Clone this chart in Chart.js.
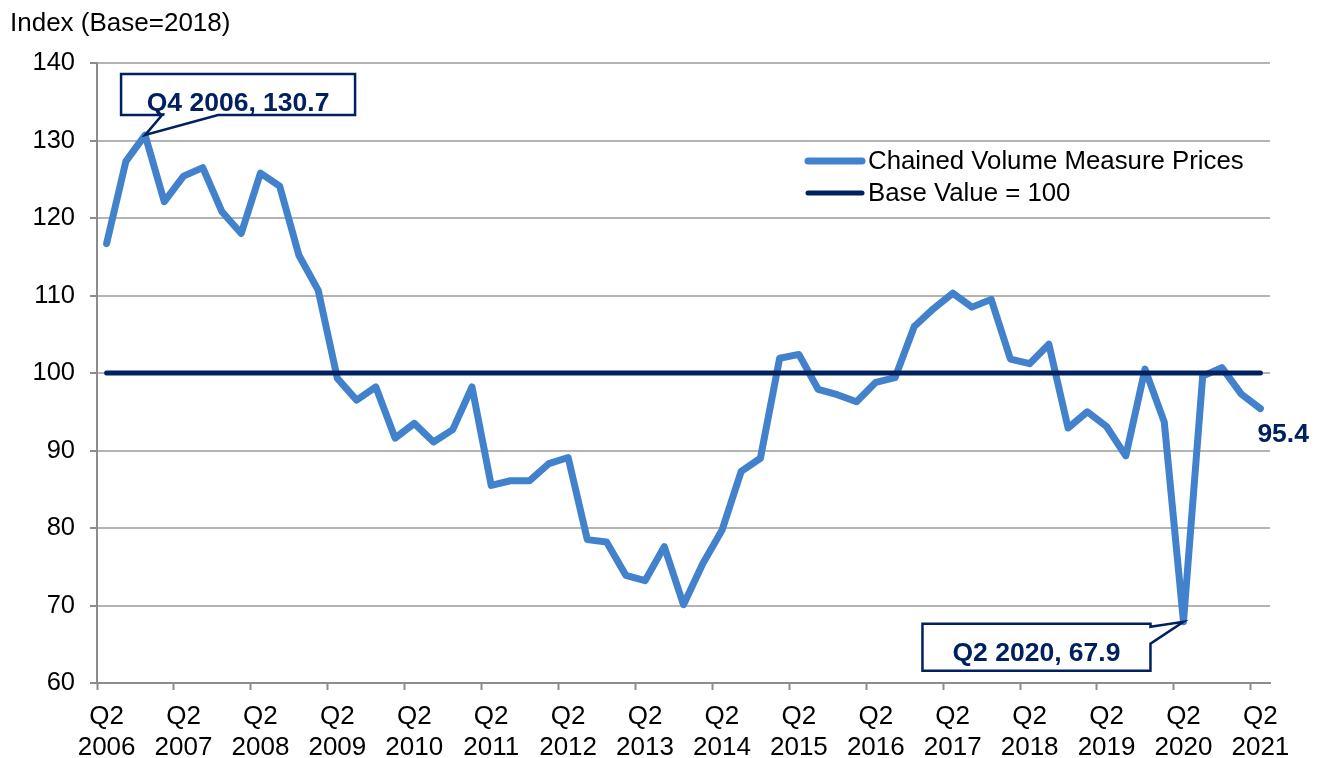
<!DOCTYPE html>
<html>
<head>
<title>Chained Volume Measure Prices</title>
<script src="https://cdn.jsdelivr.net/npm/chart.js"></script>
<style>
  html, body { margin: 0; padding: 0; background: #fff; }
  #wrap { width: 1328px; height: 758px; }
</style>
</head>
<body>
<div id="wrap"><canvas id="priceChart"></canvas></div>
<script>
// quarterly categories, Q2 2006 .. Q2 2021
const quarters = [
  'Q2 2006', 'Q3 2006', 'Q4 2006', 'Q1 2007', 'Q2 2007', 'Q3 2007', 'Q4 2007', 'Q1 2008',
  'Q2 2008', 'Q3 2008', 'Q4 2008', 'Q1 2009', 'Q2 2009', 'Q3 2009', 'Q4 2009', 'Q1 2010',
  'Q2 2010', 'Q3 2010', 'Q4 2010', 'Q1 2011', 'Q2 2011', 'Q3 2011', 'Q4 2011', 'Q1 2012',
  'Q2 2012', 'Q3 2012', 'Q4 2012', 'Q1 2013', 'Q2 2013', 'Q3 2013', 'Q4 2013', 'Q1 2014',
  'Q2 2014', 'Q3 2014', 'Q4 2014', 'Q1 2015', 'Q2 2015', 'Q3 2015', 'Q4 2015', 'Q1 2016',
  'Q2 2016', 'Q3 2016', 'Q4 2016', 'Q1 2017', 'Q2 2017', 'Q3 2017', 'Q4 2017', 'Q1 2018',
  'Q2 2018', 'Q3 2018', 'Q4 2018', 'Q1 2019', 'Q2 2019', 'Q3 2019', 'Q4 2019', 'Q1 2020',
  'Q2 2020', 'Q3 2020', 'Q4 2020', 'Q1 2021', 'Q2 2021'
];

// Chained Volume Measure Prices index (2018 = 100)
const cvmPrices = [
  116.7, 127.3, 130.7, 122.1, 125.4, 126.5, 120.8, 118.0,
  125.8, 124.1, 115.2, 110.7, 99.3, 96.5, 98.2, 91.6,
  93.5, 91.1, 92.7, 98.2, 85.5, 86.1, 86.1, 88.3,
  89.1, 78.5, 78.2, 73.9, 73.2, 77.6, 70.1, 75.4,
  79.7, 87.3, 89.0, 101.9, 102.4, 97.9, 97.2, 96.3,
  98.8, 99.4, 106.0, 108.3, 110.3, 108.5, 109.5, 101.8,
  101.2, 103.7, 92.9, 95.0, 93.1, 89.3, 100.5, 93.7,
  67.9, 99.6, 100.7, 97.3, 95.4
];

const baseValue = 100;
const baseLine = [
  { x: 'Q2 2006', y: baseValue },
  { x: 'Q2 2021', y: baseValue }
];

const yMin = 60, yMax = 140, yStep = 10;

// labelled points
const callouts = [
  { quarter: 'Q4 2006', value: 130.7 },
  { quarter: 'Q2 2020', value: 67.9 }
];
const endLabel = { quarter: 'Q2 2021', value: 95.4 };

const NAVY = '#002060';
const BLUE = '#4281CB';
const FONT = "'Liberation Sans', Arial, sans-serif";

const overlayPlugin = {
  id: 'overlay',
  afterDatasetsDraw(chart) {
    const { ctx, chartArea, scales: { x, y } } = chart;
    ctx.save();

    // legend, inside the plot area at the top right
    const lx = chartArea.right - 462, ly = chartArea.top + 98;
    chart.data.datasets.forEach((ds, i) => {
      const yy = ly + i * 32;
      ctx.strokeStyle = ds.borderColor;
      ctx.lineWidth = ds.borderWidth;
      ctx.lineCap = 'round';
      ctx.beginPath();
      ctx.moveTo(lx, yy);
      ctx.lineTo(lx + 54, yy);
      ctx.stroke();
      ctx.fillStyle = '#000';
      ctx.font = '25.8px ' + FONT;
      ctx.textAlign = 'left';
      ctx.textBaseline = 'middle';
      ctx.fillText(ds.label, lx + 60, yy + 1);
    });

    // callout boxes
    ctx.lineWidth = 2.5;
    ctx.lineJoin = 'miter';
    ctx.strokeStyle = NAVY;
    ctx.font = 'bold 26.5px ' + FONT;
    ctx.textAlign = 'center';
    ctx.textBaseline = 'alphabetic';
    callouts.forEach((c, i) => {
      const px = x.getPixelForValue(quarters.indexOf(c.quarter));
      const py = y.getPixelForValue(c.value);
      let l, r, t, b;
      ctx.beginPath();
      if (i === 0) {
        l = px - 24; r = px + 210; t = py - 61; b = py - 20;
        ctx.moveTo(l, t);
        ctx.lineTo(r, t);
        ctx.lineTo(r, b);
        ctx.lineTo(px + 73, b);
        ctx.lineTo(px, py);
        ctx.lineTo(px + 17, b);
        ctx.lineTo(l, b);
      } else {
        l = px - 261; r = px - 33; t = py + 2; b = py + 49;
        ctx.moveTo(l, t);
        ctx.lineTo(r, t);
        ctx.lineTo(r, py + 5);
        ctx.lineTo(px, py);
        ctx.lineTo(r, py + 22);
        ctx.lineTo(r, b);
        ctx.lineTo(l, b);
      }
      ctx.closePath();
      ctx.fillStyle = '#fff';
      ctx.fill();
      ctx.stroke();
      ctx.fillStyle = NAVY;
      ctx.fillText(c.quarter + ', ' + c.value.toFixed(1), (l + r) / 2, t + 37);
    });

    // last value label
    const ex = x.getPixelForValue(quarters.indexOf(endLabel.quarter));
    const ey = y.getPixelForValue(endLabel.value);
    ctx.textAlign = 'left';
    ctx.fillStyle = NAVY;
    ctx.fillText(endLabel.value.toFixed(1), ex - 3, ey + 33);

    ctx.restore();
  }
};

new Chart(document.getElementById('priceChart'), {
  type: 'line',
  data: {
    labels: quarters,
    datasets: [{
      label: 'Chained Volume Measure Prices',
      data: cvmPrices,
      borderColor: BLUE,
      borderWidth: 7,
      borderCapStyle: 'round',
      borderJoinStyle: 'round',
      pointRadius: 0,
      tension: 0,
      order: 1
    }, {
      label: 'Base Value = ' + baseValue,
      data: baseLine,
      borderColor: NAVY,
      borderWidth: 5,
      borderCapStyle: 'round',
      pointRadius: 0,
      tension: 0,
      order: 0
    }]
  },
  options: {
    responsive: true,
    maintainAspectRatio: false,
    animation: false,
    layout: { padding: { left: 10, right: 58, top: 0, bottom: 0 } },
    plugins: {
      legend: { display: false },
      tooltip: { enabled: false },
      title: {
        display: true,
        text: 'Index (Base=2018)',
        align: 'start',
        color: '#000',
        font: { family: FONT, size: 26, weight: 'normal', lineHeight: 1.2 },
        padding: { top: 8, bottom: 23.8 }
      }
    },
    scales: {
      x: {
        type: 'category',
        offset: true,
        grid: {
          offset: true,
          drawOnChartArea: false,
          drawTicks: true,
          tickLength: 7,
          tickWidth: 2,
          tickColor: (c) => (c.index % 4 === 0 ? '#8c8c8c' : 'rgba(0,0,0,0)')
        },
        border: { color: '#8c8c8c', width: 2 },
        ticks: {
          autoSkip: false,
          maxRotation: 0,
          minRotation: 0,
          padding: 11,
          color: '#000',
          font: { family: FONT, size: 26, lineHeight: 1.2 },
          callback: function (v, i) {
            return i % 4 === 0 ? this.getLabelForValue(v).split(' ') : '';
          }
        },
        afterFit: (scale) => { scale.height = 75; }
      },
      y: {
        min: yMin,
        max: yMax,
        grid: { color: '#b4b4b4', lineWidth: 2, tickLength: 7, tickColor: '#8c8c8c' },
        border: { color: '#8c8c8c', width: 2 },
        ticks: {
          stepSize: yStep,
          padding: 15,
          color: '#000',
          font: { family: FONT, size: 25.5 }
        },
        afterFit: (scale) => { scale.width = 87; }
      }
    }
  },
  plugins: [overlayPlugin]
});
</script>
</body>
</html>
